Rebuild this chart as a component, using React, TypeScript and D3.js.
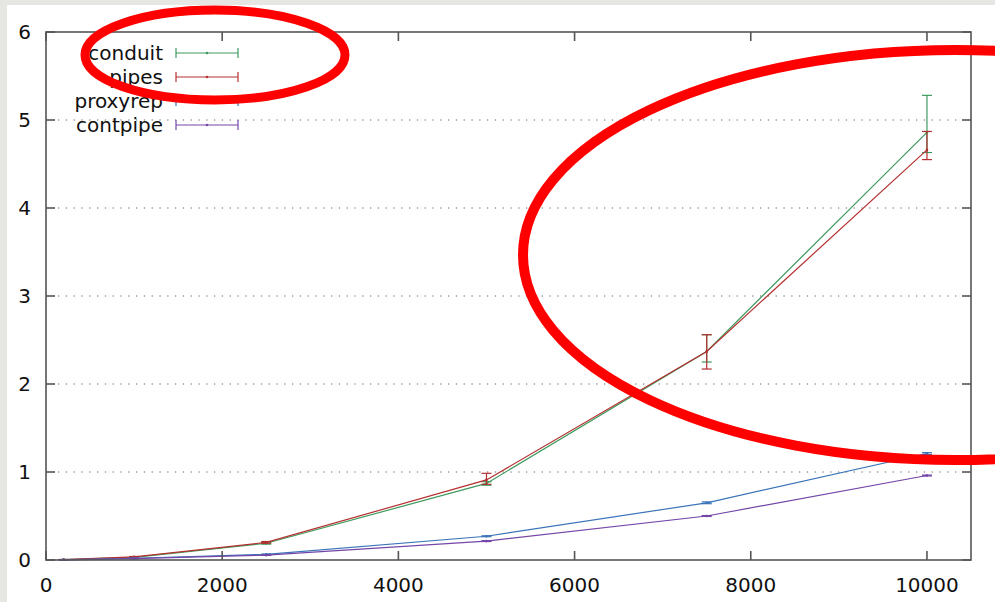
import React from 'react';
import * as d3 from 'd3';

// message counts on the x axis
const sizes = [200, 1000, 2500, 5000, 7500, 10000];

const conduitMean = [0.005, 0.03, 0.19, 0.87, 2.37, 4.86];
const conduitLow = [0.005, 0.025, 0.18, 0.85, 2.25, 4.63];
const conduitHigh = [0.005, 0.035, 0.2, 0.89, 2.56, 5.28];

const pipesMean = [0.005, 0.035, 0.2, 0.91, 2.37, 4.66];
const pipesLow = [0.005, 0.03, 0.19, 0.86, 2.17, 4.55];
const pipesHigh = [0.005, 0.04, 0.21, 0.985, 2.56, 4.87];

const proxyrepMean = [0.002, 0.02, 0.065, 0.27, 0.65, 1.21];
const proxyrepLow = [0.002, 0.018, 0.062, 0.265, 0.64, 1.2];
const proxyrepHigh = [0.002, 0.022, 0.068, 0.275, 0.66, 1.22];

const contpipeMean = [0.002, 0.015, 0.055, 0.215, 0.5, 0.96];
const contpipeLow = [0.002, 0.013, 0.052, 0.21, 0.495, 0.955];
const contpipeHigh = [0.002, 0.017, 0.058, 0.22, 0.505, 0.965];

const xTicks = [0, 2000, 4000, 6000, 8000, 10000];
const yTicks = [0, 1, 2, 3, 4, 5, 6];

const series = [
  { name: 'conduit', color: '#3d9a5e', mean: conduitMean, low: conduitLow, high: conduitHigh },
  { name: 'pipes', color: '#b3302f', mean: pipesMean, low: pipesLow, high: pipesHigh },
  { name: 'proxyrep', color: '#3a74b8', mean: proxyrepMean, low: proxyrepLow, high: proxyrepHigh },
  { name: 'contpipe', color: '#7446a8', mean: contpipeMean, low: contpipeLow, high: contpipeHigh },
];

const W = 995;
const H = 602;
const margin = { left: 46, right: 24, top: 32, bottom: 42 };
const font = 'DejaVu Sans, sans-serif';

export default function App() {
  const x = d3.scaleLinear().domain([0, 10500]).range([margin.left, W - margin.right]);
  const y = d3.scaleLinear().domain([0, 6]).range([H - margin.bottom, margin.top]);
  const x0 = margin.left;
  const x1 = W - margin.right;
  const y0 = H - margin.bottom;
  const y1 = margin.top;
  const cap = 5;

  return (
    <svg width={W} height={H} style={{ position: 'absolute', left: 0, top: 0, display: 'block' }}>
      <rect x={0} y={0} width={W} height={H} fill="#e6e6e2" />
      <rect x={7} y={5} width={W - 7} height={H - 5} fill="#ffffff" />

      {/* grid */}
      {yTicks.slice(1, -1).map(t => (
        <line key={'g' + t} x1={x0 + 12} x2={x1 - 12} y1={y(t)} y2={y(t)}
          stroke="#666" strokeWidth={1} strokeDasharray="1.3,6.5" />
      ))}

      {/* series */}
      {series.map(s => {
        const line = d3.line<number>()
          .x((_, i) => x(sizes[i]))
          .y(d => y(d));
        return (
          <g key={s.name}>
            <path d={line(s.mean) || ''} fill="none" stroke={s.color} strokeWidth={1.2} />
            {sizes.map((v, i) => (
              <g key={i} stroke={s.color} strokeWidth={1.2}>
                <line x1={x(v)} x2={x(v)} y1={y(s.low[i])} y2={y(s.high[i])} />
                <line x1={x(v) - cap} x2={x(v) + cap} y1={y(s.low[i])} y2={y(s.low[i])} />
                <line x1={x(v) - cap} x2={x(v) + cap} y1={y(s.high[i])} y2={y(s.high[i])} />
                <circle cx={x(v)} cy={y(s.mean[i])} r={1.3} fill={s.color} stroke="none" />
              </g>
            ))}
          </g>
        );
      })}

      {/* frame and ticks */}
      <g stroke="#555" strokeWidth={1.6}>
        <rect x={x0} y={y1} width={x1 - x0} height={y0 - y1} fill="none" />
        {xTicks.map(t => (
          <g key={'xt' + t}>
            <line x1={x(t)} x2={x(t)} y1={y0} y2={y0 - 9} />
            <line x1={x(t)} x2={x(t)} y1={y1} y2={y1 + 9} />
          </g>
        ))}
        {yTicks.map(t => (
          <g key={'yt' + t}>
            <line x1={x0} x2={x0 + 9} y1={y(t)} y2={y(t)} />
            <line x1={x1} x2={x1 - 9} y1={y(t)} y2={y(t)} />
          </g>
        ))}
      </g>

      {xTicks.map(t => (
        <text key={'xl' + t} x={x(t)} y={592} textAnchor="middle" fontFamily={font} fontSize={20} fill="#111">
          {t}
        </text>
      ))}
      {yTicks.map(t => (
        <text key={'yl' + t} x={31} y={y(t) + 7} textAnchor="end" fontFamily={font} fontSize={20} fill="#111">
          {t}
        </text>
      ))}

      {/* legend */}
      {series.map((s, i) => {
        const ly = 53 + i * 24;
        return (
          <g key={'lg' + s.name}>
            <text x={163} y={ly + 7} textAnchor="end" fontFamily={font} fontSize={20} fill="#111">{s.name}</text>
            <g stroke={s.color} strokeWidth={1.2}>
              <line x1={176} x2={238} y1={ly} y2={ly} />
              <line x1={176} x2={176} y1={ly - 5} y2={ly + 5} />
              <line x1={238} x2={238} y1={ly - 5} y2={ly + 5} />
            </g>
            <circle cx={207} cy={ly} r={1.3} fill={s.color} />
          </g>
        );
      })}

      {/* hand-drawn highlight ellipses */}
      <ellipse cx={215} cy={55} rx={130} ry={45} fill="none" stroke="#ff0000" strokeWidth={9} />
      <ellipse cx={955} cy={255} rx={432} ry={205} fill="none" stroke="#ff0000" strokeWidth={10} />
    </svg>
  );
}
